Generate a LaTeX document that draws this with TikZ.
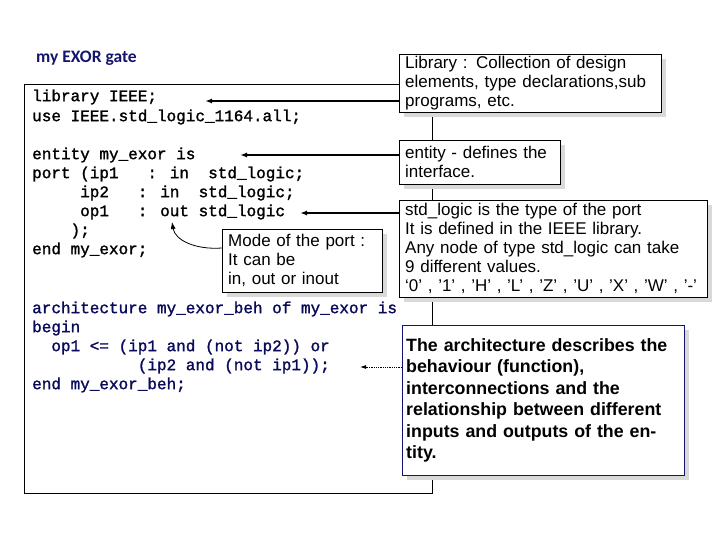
\documentclass[tikz,border=0pt]{standalone}
\usepackage{fontspec}
\setmainfont{Liberation Sans}
\newfontfamily\codefont{Liberation Mono}[FakeBold=1.5]
\newfontfamily\titlefont{Carlito}
\usetikzlibrary{arrows.meta,shadows}
\definecolor{navy}{RGB}{20,20,110}
\definecolor{codeblue}{RGB}{10,10,90}
\begin{document}
\begin{tikzpicture}[x=1pt,y=-1pt,
  code/.style={anchor=west,inner sep=0pt,font=\codefont\fontsize{16}{19}\selectfont,text=black},
  note/.style={draw=black,fill=white,anchor=north west,align=left,inner xsep=6pt,inner ysep=2pt,font=\fontsize{17}{19}\selectfont,drop shadow={shadow xshift=5pt,shadow yshift=-5pt,fill=black!15,opacity=1}},
  arr/.style={-{Latex[length=7pt,width=5pt]},line width=1.6pt}]
\useasboundingbox (0,0) rectangle (720,540);
\node[anchor=west,inner sep=0pt,text=navy,font=\titlefont\bfseries\fontsize{17.5}{18}\selectfont] (title) at (36,58) {my EXOR gate};
\draw[line width=0.8pt] (24,84) rectangle (432,493);
\node[code] (l1) at (32,97) {library IEEE;};
\node[code] (l2) at (32,117) {use IEEE.std\_logic\_1164.all;};
\node[code] (l3) at (32,155) {entity my\_exor is};
\node[code] (l4) at (32,174) {port (ip1~~~: in~~std\_logic;};
\node[code] (l5) at (32,193) {~~~~~ip2~~~: in~~std\_logic;};
\node[code] (l6) at (32,212) {~~~~~op1~~~: out std\_logic};
\node[code] (l7) at (32,231) {~~~~);};
\node[code] (l8) at (32,250) {end my\_exor;};
\node[code,text=codeblue] (l9) at (32,309) {architecture my\_exor\_beh of my\_exor is};
\node[code,text=codeblue] (l10) at (32,328) {begin};
\node[code,text=codeblue] (l11) at (32,347) {~~op1 <= (ip1 and (not ip2)) or};
\node[code,text=codeblue] (l12) at (32,366) {~~~~~~~~~~~(ip2 and (not ip1));};
\node[code,text=codeblue] (l13) at (32,385) {end my\_exor\_beh;};

\node[note,text width=250pt,minimum height=58pt] (lib) at (399,54) {Library : Collection of design\\elements, type declarations,sub\\programs, etc.};
\node[note,text width=149pt,minimum height=44pt] (ent) at (399,140) {entity - defines the\\interface.};
\node[note,text width=296pt,minimum height=97pt] (std) at (399,200) {std\_logic is the type of the port\\It is defined in the IEEE library.\\Any node of type std\_logic can take\\9 different values.\\‘0’ , ’1’ , ’H’ , ’L’ , ’Z’ , ’U’ , ’X’ , ’W’ , ’-’};
\node[note,text width=148pt,minimum height=63pt] (mode) at (222,229) {Mode of the port :\\It can be\\in, out or inout};
\node[note,draw=navy,text width=274pt,inner xsep=4pt,minimum height=150pt,font=\bfseries\fontsize{17.8}{21.5}\selectfont] (arch) at (402,325) {The architecture describes the\\behaviour (function),\\interconnections and the\\relationship between different\\inputs and outputs of the entity.};

\coordinate (a1) at (205,101);
\coordinate (a2) at (240,155);
\coordinate (a3) at (300,213);
\coordinate (a4) at (172,222);
\coordinate (a5) at (360,367);
\draw[arr] (lib.west |- a1) -- (a1);
\draw[arr] (ent.west |- a2) -- (a2);
\draw[arr] (std.west |- a3) -- (a3);
\draw[-{Latex[length=7pt,width=5pt]},line width=0.8pt] (mode.west |- 0,248) .. controls (195,250) and (175,240) .. (a4);
\draw[-{Latex[length=6pt,width=4pt]},densely dotted,line width=0.8pt] (arch.west |- a5) -- (a5);
\end{tikzpicture}
\end{document}
